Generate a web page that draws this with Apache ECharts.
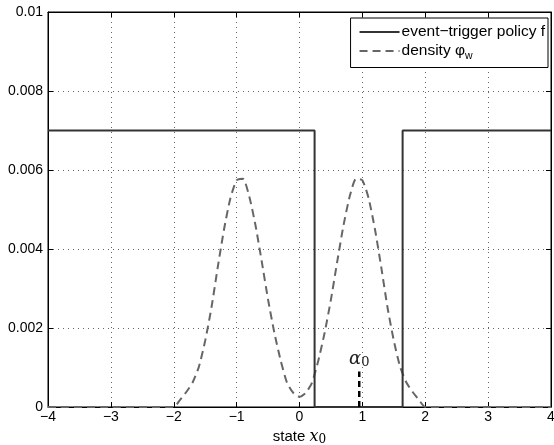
<!DOCTYPE html>
<html>
<head>
<meta charset="utf-8">
<script src="https://cdn.jsdelivr.net/npm/echarts@6/dist/echarts.min.js"></script>
<style>
  html, body { margin: 0; padding: 0; background: #fff; }
  #main { width: 554px; height: 445px; }
</style>
</head>
<body>
<div id="main"></div>
<script>
// step policy: breakpoints (x) and levels
var policyX = [-4, 0.24, 0.24, 1.64, 1.64, 4];
var policyY = [0.007, 0.007, 0, 0, 0.007, 0.007];

// density phi_w
var densityX = [-4, -3, -2.0, -1.9, -1.8, -1.7, -1.6, -1.5, -1.4, -1.3, -1.2, -1.1, -1.0, -0.9, -0.8, -0.7, -0.6, -0.5, -0.4, -0.3, -0.2, -0.1,
    0.0, 0.1, 0.2, 0.3, 0.4, 0.5, 0.6, 0.7, 0.8, 0.9, 1.0, 1.1, 1.2, 1.3, 1.4, 1.5, 1.6, 1.7, 1.8, 1.9, 2.0, 3, 4];
var densityY = [0, 0, 0, 0.00018, 0.00038, 0.00062, 0.00102, 0.00168, 0.00252, 0.00354, 0.00450, 0.00528, 0.00574, 0.00578, 0.00534, 0.00460, 0.00368, 0.00272, 0.00188, 0.00118, 0.00062, 0.00036,
    0.00026, 0.00036, 0.00062, 0.00118, 0.00188, 0.00272, 0.00368, 0.00460, 0.00534, 0.00578, 0.00574, 0.00528, 0.00450, 0.00354, 0.00252, 0.00168, 0.00102, 0.00062, 0.00038, 0.00018, 0, 0, 0];

var alphaX = 0.95;
var alphaTop = 0.0009;

var xTicks = [-4, 4, 1];
var yTicks = [0, 0.01, 0.002];

function pairs(xs, ys) {
    var out = [];
    for (var i = 0; i < xs.length; i++) out.push([xs[i], ys[i]]);
    return out;
}

var FONT = 'Liberation Sans, Arial, sans-serif';
var frameAxis = {
    axisLine: { show: true, onZero: false, lineStyle: { color: '#000' } },
    axisTick: { inside: true, length: 5, lineStyle: { color: '#000' } }
};

var option = {
    animation: false,
    backgroundColor: '#fff',
    grid: {
        left: 48, right: 3, top: 12, bottom: 38,
        outerBoundsMode: 'none',
        containLabel: false,
        show: true, borderColor: '#000', borderWidth: 1
    },
    legend: {
        data: ['event−trigger policy f', 'density'],
        orient: 'vertical',
        right: 6, top: 18,
        backgroundColor: '#fff',
        borderColor: '#000',
        borderWidth: 1,
        borderRadius: 0,
        padding: [6, 3, 6, 8],
        itemWidth: 40,
        itemHeight: 12,
        itemGap: 3,
        itemStyle: { opacity: 0 },
        textStyle: {
            fontFamily: FONT, fontSize: 15.5, color: '#000', padding: [0, 0, 0, -3],
            rich: {
                w: { fontSize: 10.5, fontFamily: FONT, color: '#000', padding: [10, 0, 0, 0] }
            }
        },
        formatter: function (name) {
            return name === 'density' ? 'density φ{w|w}' : name;
        }
    },
    xAxis: [
        {
            type: 'value', min: xTicks[0], max: xTicks[1], interval: xTicks[2],
            position: 'bottom',
            name: '{s|state }{x|x}{z|0}',
            nameLocation: 'middle',
            nameGap: 20,
            nameTextStyle: {
                rich: {
                    s: { fontFamily: FONT, fontSize: 15, color: '#000' },
                    x: { fontFamily: 'DejaVu Serif, serif', fontStyle: 'italic', fontSize: 16, color: '#000' },
                    z: { fontFamily: 'DejaVu Serif, serif', fontSize: 12, color: '#000', padding: [6, 0, 0, 0] }
                }
            },
            axisLine: frameAxis.axisLine,
            axisTick: frameAxis.axisTick,
            axisLabel: {
                fontFamily: FONT, fontSize: 14, color: '#000', margin: 3,
                formatter: function (v) { return String(v).replace('-', '−'); }
            },
            splitLine: { show: true, lineStyle: { type: [1, 4], color: '#666' } }
        },
        {
            type: 'value', min: xTicks[0], max: xTicks[1], interval: xTicks[2],
            position: 'top',
            axisLine: frameAxis.axisLine,
            axisTick: frameAxis.axisTick,
            axisLabel: { show: false },
            splitLine: { show: false }
        }
    ],
    yAxis: [
        {
            type: 'value', min: yTicks[0], max: yTicks[1], interval: yTicks[2],
            position: 'left',
            axisLine: frameAxis.axisLine,
            axisTick: frameAxis.axisTick,
            axisLabel: {
                fontFamily: FONT, fontSize: 14, color: '#000', margin: 5,
                formatter: function (v) { return String(+v.toFixed(3)); }
            },
            splitLine: { show: true, lineStyle: { type: [1, 4], color: '#666' } }
        },
        {
            type: 'value', min: yTicks[0], max: yTicks[1], interval: yTicks[2],
            position: 'right',
            axisLine: frameAxis.axisLine,
            axisTick: frameAxis.axisTick,
            axisLabel: { show: false },
            splitLine: { show: false }
        }
    ],
    series: [
        {
            name: 'density',
            type: 'line',
            data: pairs(densityX, densityY),
            showSymbol: false,
            symbol: 'none',
            smooth: 0.2,
            color: '#666',
            lineStyle: { color: '#666', width: 2, type: [8, 5] },
            z: 2
        },
        {
            name: 'event−trigger policy f',
            type: 'line',
            data: pairs(policyX, policyY),
            showSymbol: false,
            symbol: 'none',
            color: '#333',
            lineStyle: { color: '#333', width: 2 },
            z: 3
        },
        {
            name: 'alpha',
            type: 'line',
            data: [[alphaX, 0], {
                value: [alphaX, alphaTop],
                label: {
                    show: true, position: 'top', distance: 2,
                    formatter: '{a|α}{b|0}',
                    rich: {
                        a: { fontFamily: 'DejaVu Serif, serif', fontStyle: 'italic', fontSize: 18, color: '#222' },
                        b: { fontFamily: 'DejaVu Serif, serif', fontSize: 13, color: '#222', padding: [8, 0, 0, 0] }
                    }
                }
            }],
            symbol: 'circle',
            symbolSize: 0,
            color: '#000',
            lineStyle: { color: '#000', width: 2.5, type: [6, 4] },
            z: 4
        }
    ]
};

var myChart = echarts.init(document.getElementById('main'));
myChart.setOption(option);
</script>
</body>
</html>
